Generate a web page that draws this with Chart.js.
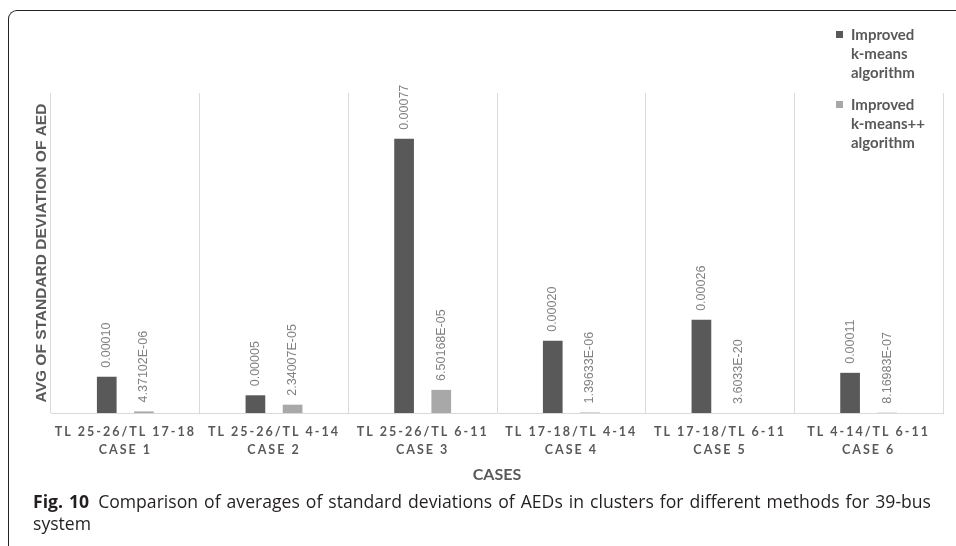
<!DOCTYPE html>
<html>
<head>
<meta charset="utf-8">
<script src="https://cdn.jsdelivr.net/npm/chart.js@4.4.1/dist/chart.umd.min.js"></script>
<style>
  html, body { margin: 0; padding: 0; background: #fff; }
  body { width: 956px; height: 546px; position: relative; overflow: hidden; }
  .frame { position: absolute; left: 8px; top: 10px; width: 1000px; height: 600px;
    border-top: 1.5px solid #222; border-left: 1.5px solid #222; border-top-left-radius: 9px; }
  .chart-box { position: absolute; left: 0; top: 0; width: 956px; height: 490px; }
  .caption { position: absolute; left: 33px; top: 490px; width: 898px; text-align: justify;
    font-family: "Open Sans", sans-serif; font-size: 17.6px; line-height: 22px; color: #231f20; }
  .caption b { margin-right: 3px; }
</style>
</head>
<body>
<div class="frame"></div>
<div class="chart-box"><canvas id="c1"></canvas></div>
<div class="caption"><b>Fig. 10</b> Comparison of averages of standard deviations of AEDs in clusters for different methods for 39-bus system</div>
<script>
// categories (two-line tick labels)
const caseLines = [
  ['TL 25-26/TL 17-18', 'CASE 1'],
  ['TL 25-26/TL 4-14', 'CASE 2'],
  ['TL 25-26/TL 6-11', 'CASE 3'],
  ['TL 17-18/TL 4-14', 'CASE 4'],
  ['TL 17-18/TL 6-11', 'CASE 5'],
  ['TL 4-14/TL 6-11', 'CASE 6']
];
const kmeans   = [0.000102, 0.0000498, 0.000771, 0.000203, 0.000262, 0.000113];
const kmeansPP = [4.37102e-6, 2.34007e-5, 6.50168e-5, 1.39633e-6, 3.6033e-20, 8.16983e-7];
const legendLines = [
  ['Improved', 'k-means', 'algorithm'],
  ['Improved', 'k-means++', 'algorithm']
];
const yMax = 0.0009;

// Excel-like labels: fixed for the first series, scientific for the second
const fixedLbl = v => v.toFixed(5);
const sciLbl = v => {
  const [m, e] = v.toExponential().split('e');
  const n = Math.abs(parseInt(e));
  return m + 'E' + (e[0] === '-' ? '-' : '+') + String(n).padStart(2, '0');
};

// rotated value labels above each bar
const barLabels = {
  id: 'barLabels',
  afterDatasetsDraw(chart) {
    const ctx = chart.ctx;
    chart.data.datasets.forEach((ds, di) => {
      const meta = chart.getDatasetMeta(di);
      meta.data.forEach((bar, i) => {
        const txt = ds.fmt(ds.data[i]);
        ctx.save();
        ctx.translate(bar.x, bar.y - 9);
        ctx.rotate(-Math.PI / 2);
        ctx.font = '12.5px "Liberation Sans", Arial, sans-serif';
        ctx.fillStyle = '#808080';
        ctx.textAlign = 'left';
        ctx.textBaseline = 'middle';
        ctx.fillText(txt, 0, 0);
        ctx.restore();
      });
    });
  }
};

// wrapped legend in the upper right corner
const sideLegend = {
  id: 'sideLegend',
  afterDraw(chart) {
    const ctx = chart.ctx;
    let y = 35;
    chart.data.datasets.forEach((ds, di) => {
      ctx.save();
      ctx.fillStyle = ds.backgroundColor;
      ctx.fillRect(836, y - 4, 7, 7);
      ctx.font = 'bold 15px Lato, sans-serif';
      ctx.fillStyle = '#595959';
      ctx.textBaseline = 'middle';
      legendLines[di].forEach((ln, k) => ctx.fillText(ln, 851, y + k * 19));
      ctx.restore();
      y += 70;
    });
  }
};

// spaced-out category labels like the original
const spacedTicks = {
  id: 'spacedTicks',
  afterUpdate(chart) {
    const sx = chart.scales.x;
    if (sx._spaced) return;
    const orig = sx.drawLabels;
    sx.drawLabels = function (area) {
      this.ctx.save();
      this.ctx.letterSpacing = '2px';
      orig.call(this, area);
      this.ctx.restore();
    };
    sx._spaced = true;
  }
};

new Chart(document.getElementById('c1'), {
  type: 'bar',
  data: {
    labels: caseLines,
    datasets: [
      { label: legendLines[0].join(' '), data: kmeans, backgroundColor: '#595959', fmt: fixedLbl,
        categoryPercentage: 0.5, barPercentage: 0.53 },
      { label: legendLines[1].join(' '), data: kmeansPP, backgroundColor: '#a8a8a8', fmt: sciLbl,
        categoryPercentage: 0.5, barPercentage: 0.53 }
    ]
  },
  options: {
    responsive: true, maintainAspectRatio: false, animation: false,
    layout: { padding: { top: 93, right: 13, left: 0, bottom: 0 } },
    plugins: { legend: { display: false }, tooltip: { enabled: false } },
    scales: {
      x: {
        grid: { offset: true, color: '#d9d9d9', drawTicks: false },
        border: { color: '#d9d9d9' },
        ticks: { color: '#595959', padding: 10, maxRotation: 0, autoSkip: false,
          font: { family: 'Lato', weight: 'bold', size: 12.5, lineHeight: 1.45 } },
        title: { display: true, text: 'CASES', color: '#595959', padding: { top: 0, bottom: 6 },
          font: { family: 'Lato', weight: 'bold', size: 16 } },
        afterFit: s => { s.height = 77 }
      },
      y: {
        min: 0, max: yMax,
        grid: { display: false }, border: { display: false },
        ticks: { display: false },
        title: { display: true, text: 'AVG OF STANDARD DEVIATION OF AED', color: '#595959',
          padding: { top: 32, bottom: 0 },
          font: { family: '"Liberation Sans", Arial', weight: 'bold', size: 15.5 } },
        afterFit: s => { s.width = 51 }
      }
    }
  },
  plugins: [barLabels, sideLegend, spacedTicks]
});
</script>
</body>
</html>
